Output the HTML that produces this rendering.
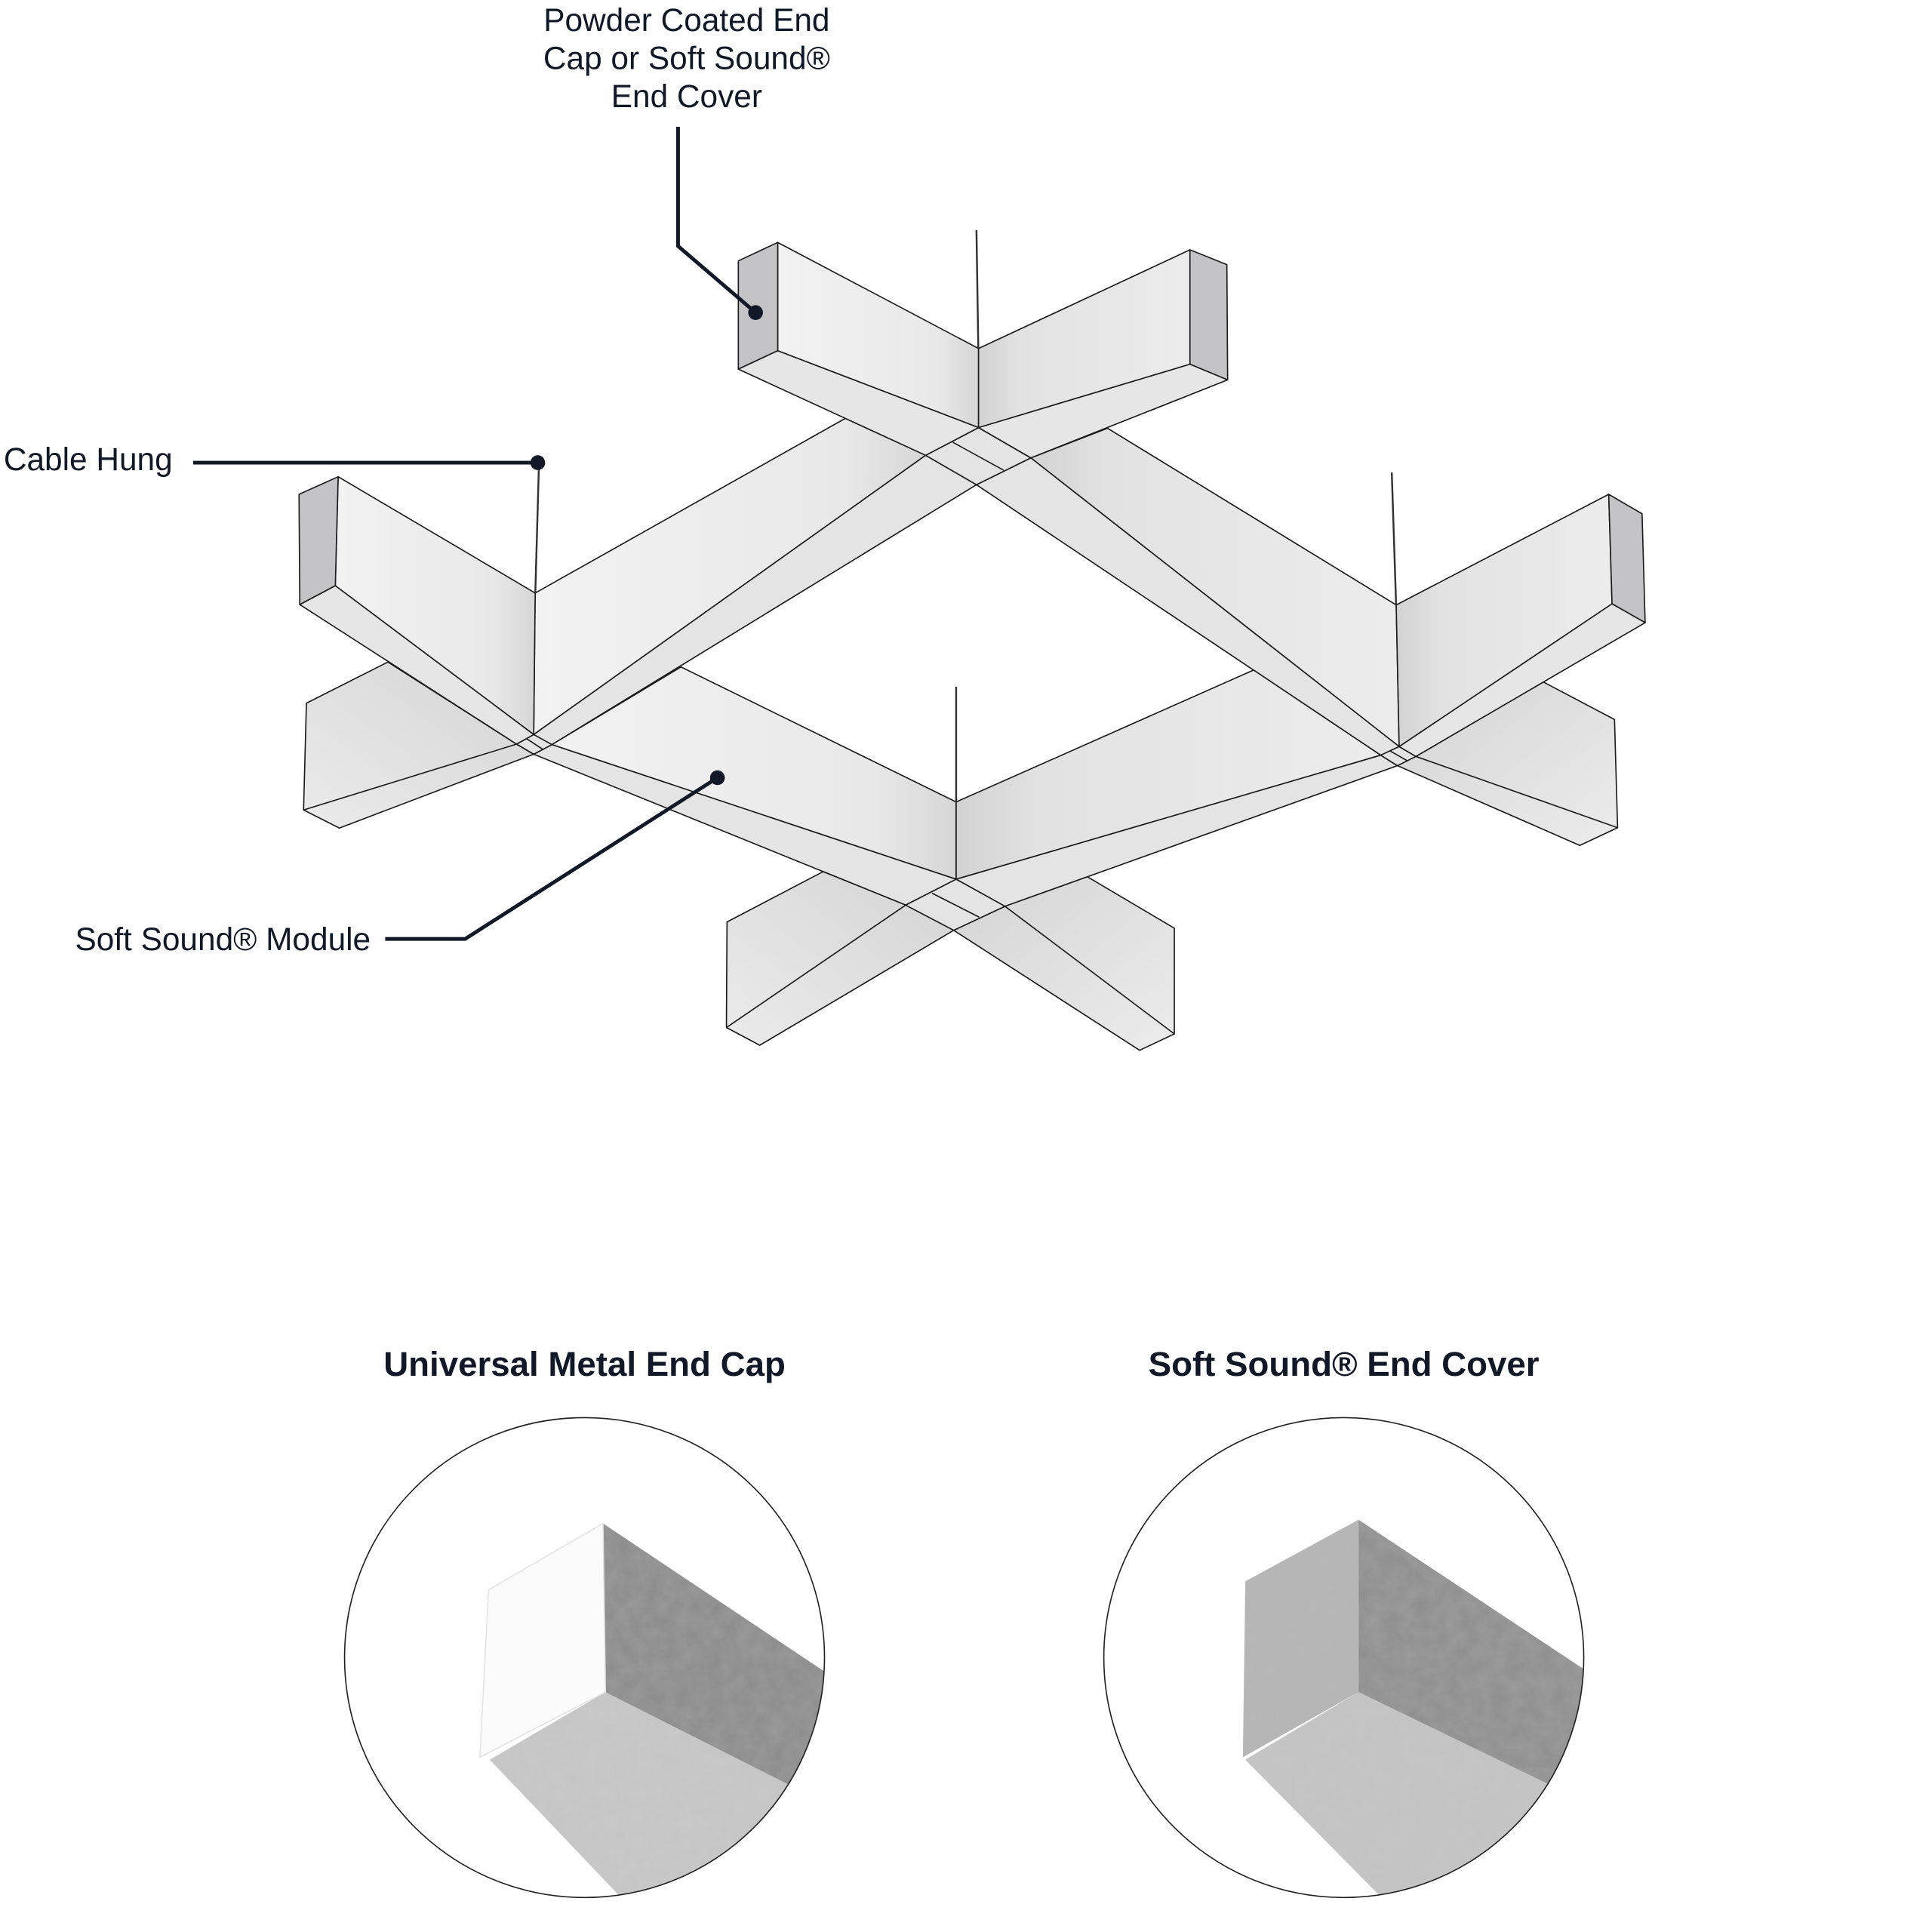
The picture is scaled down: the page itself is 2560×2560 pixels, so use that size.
<!DOCTYPE html>
<html><head><meta charset="utf-8"><style>
html,body{margin:0;padding:0;background:#fff}
svg{display:block}
text{font-family:"Liberation Sans",sans-serif;fill:#111827}
</style></head><body>
<svg width="2560" height="2560" viewBox="0 0 1570 1570" xmlns="http://www.w3.org/2000/svg">
<defs>
<linearGradient id="fa" x1="0" y1="0" x2="1" y2="0"><stop offset="0" stop-color="#f2f2f2"/><stop offset="0.8" stop-color="#e8e8e8"/><stop offset="1" stop-color="#d6d6d6"/></linearGradient>
<linearGradient id="fb" x1="1" y1="0" x2="0" y2="0"><stop offset="0" stop-color="#ececec"/><stop offset="0.8" stop-color="#e2e2e2"/><stop offset="1" stop-color="#d2d2d2"/></linearGradient>
<linearGradient id="fl" x1="0" y1="1" x2="1" y2="0"><stop offset="0" stop-color="#ebebeb"/><stop offset="1" stop-color="#d4d4d4"/></linearGradient>
<linearGradient id="fr" x1="1" y1="1" x2="0" y2="0"><stop offset="0" stop-color="#ececec"/><stop offset="1" stop-color="#d4d4d4"/></linearGradient>
<clipPath id="c1"><circle cx="475" cy="1347" r="195"/></clipPath>
<clipPath id="c2"><circle cx="1092" cy="1347" r="195"/></clipPath>
<filter id="felt"><feTurbulence type="fractalNoise" baseFrequency="0.08" numOctaves="3" seed="3"/><feColorMatrix type="matrix" values="0 0 0 0 0.5 0 0 0 0 0.5 0 0 0 0 0.5 0 0 0 0.35 0"/><feComposite in2="SourceGraphic" operator="in"/></filter>
</defs>
<g stroke="#1a1a1a" stroke-width="1" stroke-linejoin="round">
<!-- long bars -->
<!-- T -> Rc -->
<polygon points="837.7,372.1 900,348 1134.6,491.6 1137,606.7" fill="url(#fb)"/>
<polygon points="837.7,372.1 1137,606.7 1122,613.7 793.5,393.9" fill="#e4e4e4"/>
<!-- T -> Lc -->
<polygon points="686.9,340 752.2,370 433.7,596.9 434.9,481.9" fill="url(#fa)"/>
<polygon points="752.2,370 793.5,393.9 448.5,605.1 433.7,596.9" fill="#e4e4e4"/>
<!-- Lc -> Bc -->
<polygon points="448.5,605.1 553.4,542 777,651.7 777,714.5" fill="url(#fa)"/>
<polygon points="448.5,605.1 777,714.5 736,735.5 433.7,612.9" fill="#e4e4e4"/>
<!-- Rc -> Bc -->
<polygon points="1018.7,544.5 1122,613.7 777,714.5 777,651.7" fill="url(#fb)"/>
<polygon points="1122,613.7 1135.6,622.2 816.7,736.5 777,714.5" fill="#e4e4e4"/>

<!-- lower arms -->
<polygon points="315.2,538 249,571.4 246.7,658.2 275.8,672.9 433.7,612.9 419.8,604.7" fill="url(#fl)"/>
<line x1="246.7" y1="658.2" x2="419.8" y2="604.7"/>
<polygon points="1254.2,554.2 1312,584.7 1314.5,672.6 1283.8,687 1135.6,622.2 1150.6,614.7" fill="url(#fr)"/>
<line x1="1314.5" y1="672.6" x2="1150.6" y2="614.7"/>
<polygon points="668.9,708.3 590.8,749.2 590.3,835 617.4,849.4 775,756 736,735.5" fill="url(#fl)"/>
<line x1="590.3" y1="835" x2="736" y2="735.5"/>
<polygon points="816.7,736.5 883.7,712.5 954.3,754.3 954.3,840.2 926.1,853.5 775,756" fill="url(#fr)"/>
<line x1="954.3" y1="840.2" x2="816.7" y2="736.5"/>

<!-- diamonds -->
<polygon points="795.2,347.5 837.7,372.1 793.5,393.9 752.2,370" fill="#e4e4e4"/>
<line x1="774.3" y1="359.4" x2="815.6" y2="382.1"/>
<polygon points="433.7,596.9 448.5,605.1 433.7,612.9 419.8,604.7" fill="#e4e4e4"/>
<line x1="427.5" y1="600" x2="440.9" y2="608.8"/>
<polygon points="1137,606.7 1150.6,614.7 1135.6,622.2 1122,613.7" fill="#e4e4e4"/>
<line x1="1129.5" y1="610.2" x2="1143.8" y2="618.3"/>
<polygon points="777,714.5 816.7,736.5 775,756 736,735.5" fill="#e4e4e4"/>
<line x1="757.4" y1="725.8" x2="795.7" y2="745.3"/>

<!-- top arms -->
<polygon points="632,197 795.2,283.2 795.2,347.5 632,285" fill="url(#fa)"/>
<polygon points="600,212 632,197 632,285 600,300" fill="#c4c4c6"/>
<polygon points="600,300 632,285 795.2,347.5 752.2,370" fill="#e6e6e6"/>
<polygon points="795.2,283.2 967,203 967,296 795.2,347.5" fill="url(#fb)"/>
<polygon points="967,203 997,215 997.6,308.7 967,296" fill="#c4c4c6"/>
<polygon points="795.2,347.5 967,296 997.6,308.7 837.7,372.1" fill="#e6e6e6"/>
<!-- Lc upper-left arm -->
<polygon points="274.8,387.4 434.9,481.9 433.7,596.9 272.5,476" fill="url(#fa)"/>
<polygon points="243,401.7 274.8,387.4 272.5,476 243.6,491.3" fill="#c4c4c6"/>
<polygon points="243.6,491.3 272.5,476 433.7,596.9 419.8,604.7" fill="#e6e6e6"/>
<!-- Rc upper-right arm -->
<polygon points="1134.6,491.6 1307.3,401.7 1310,490.7 1137,606.7" fill="url(#fb)"/>
<polygon points="1307.3,401.7 1334.4,417.5 1336.9,506 1310,490.7" fill="#c4c4c6"/>
<polygon points="1137,606.7 1310,490.7 1336.9,506 1150.6,614.7" fill="#e6e6e6"/>
</g>
<g stroke="#333" stroke-width="1.5">
<line x1="793.5" y1="187" x2="795" y2="283"/><line x1="438" y1="376" x2="435" y2="482"/>
<line x1="777" y1="558" x2="777" y2="652"/><line x1="1131" y1="384" x2="1134.5" y2="491"/>
</g>
<g stroke="#111827" stroke-width="3" fill="none">
<polyline points="551,103 551,200 614,254"/>
<line x1="157" y1="376" x2="437" y2="376"/>
<polyline points="313,763 378,763 583,632"/>
</g>
<g fill="#111827"><circle cx="614" cy="254" r="6"/><circle cx="437" cy="376" r="6"/><circle cx="583" cy="632" r="6"/></g>
<g font-size="26">
<text x="558" y="25" text-anchor="middle">Powder Coated End</text>
<text x="558" y="56" text-anchor="middle">Cap or Soft Sound®</text>
<text x="558" y="87" text-anchor="middle">End Cover</text>
<text x="3" y="382">Cable Hung</text>
<text x="61" y="772">Soft Sound® Module</text>
</g>
<g font-size="28" font-weight="bold" text-anchor="middle">
<text x="475" y="1118">Universal Metal End Cap</text>
<text x="1092" y="1118">Soft Sound® End Cover</text>
</g>
<g clip-path="url(#c1)">
<polygon points="490,1238 680,1365 680,1600 492,1375" fill="#8a8a8a"/>
<polygon points="490,1238 680,1365 680,1600 492,1375" fill="#fff" filter="url(#felt)"/>
<polygon points="398,1430 492,1375 680,1470 680,1600 560,1600" fill="#c9c9c9"/>
<polygon points="398,1430 492,1375 680,1470 680,1600 560,1600" fill="#fff" filter="url(#felt)"/>
<polygon points="397,1292 490,1238 492,1375 390,1428" fill="#fbfbfb" stroke="#e4e4e4"/>
</g>
<g clip-path="url(#c2)">
<polygon points="1104,1235 1300,1365 1300,1600 1104,1375" fill="#8d8d8d"/>
<polygon points="1104,1235 1300,1365 1300,1600 1104,1375" fill="#fff" filter="url(#felt)"/>
<polygon points="1012,1430 1104,1375 1300,1470 1300,1600 1180,1600" fill="#c6c6c6"/>
<polygon points="1012,1430 1104,1375 1300,1470 1300,1600 1180,1600" fill="#fff" filter="url(#felt)"/>
<polygon points="1012,1285 1104,1235 1104,1375 1010,1428" fill="#b5b5b5"/>
<polygon points="1012,1285 1104,1235 1104,1375 1010,1428" fill="#fff" filter="url(#felt)"/>
</g>
<circle cx="475" cy="1347" r="195" fill="none" stroke="#222" stroke-width="1"/>
<circle cx="1092" cy="1347" r="195" fill="none" stroke="#222" stroke-width="1"/>
</svg>
</body></html>
